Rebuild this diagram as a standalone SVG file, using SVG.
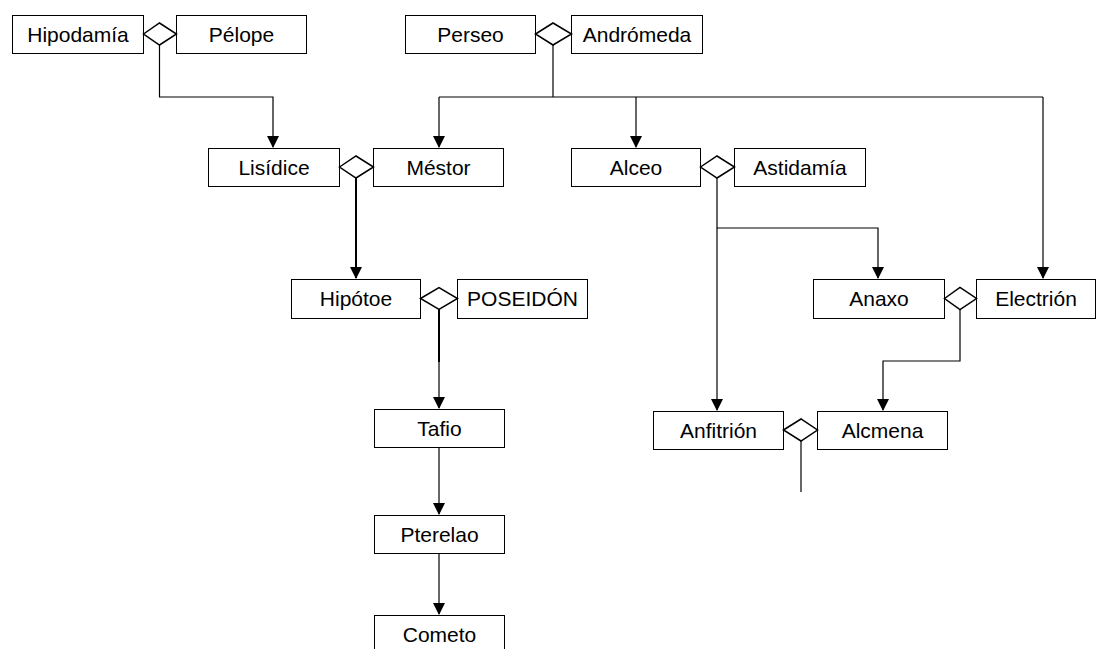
<svg xmlns="http://www.w3.org/2000/svg" width="1096" height="649" viewBox="0 0 1096 649">
  <style>
    .box { fill: #ffffff; stroke: #000000; stroke-width: 1; }
    .dia { fill: #ffffff; stroke: #000000; stroke-width: 1.5; }
    .lbl { font-family: "Liberation Sans", Arial, sans-serif; font-size: 21px; fill: #000000; text-anchor: middle; }
    .link { fill: none; stroke: #000000; stroke-width: 1.2; }
    .link-bold { fill: none; stroke: #000000; stroke-width: 2; }
  </style>
  <defs>
    <marker id="arrow" markerUnits="userSpaceOnUse" markerWidth="12" markerHeight="12" viewBox="0 0 12 12" refX="11" refY="6" orient="auto">
      <path d="M0,0 L12,6 L0,12 Z" fill="#000000"/>
    </marker>
  </defs>
  <rect width="1096" height="649" fill="#ffffff"/>

  <!-- connectors -->
  <g id="connectors">
    <path class="link" d="M159.5,44 V97 H273 V147" marker-end="url(#arrow)"/>
    <path class="link" d="M553,44 V97"/>
    <path class="link" d="M439,97 H1043"/>
    <path class="link" d="M439,97 V147" marker-end="url(#arrow)"/>
    <path class="link" d="M636,97 V147" marker-end="url(#arrow)"/>
    <path class="link" d="M1043,97 V278" marker-end="url(#arrow)"/>
    <path class="link-bold" d="M356,177 V278" marker-end="url(#arrow)"/>
    <path class="link" d="M717,177 V228 H878 V278" marker-end="url(#arrow)"/>
    <path class="link" d="M717,228 V410" marker-end="url(#arrow)"/>
    <path class="link-bold" d="M439,309 V362"/>
    <path class="link" d="M439,362 V408" marker-end="url(#arrow)"/>
    <path class="link" d="M439,447 V514" marker-end="url(#arrow)"/>
    <path class="link" d="M439,553 V614" marker-end="url(#arrow)"/>
    <path class="link" d="M960,309 V361 H883 V410" marker-end="url(#arrow)"/>
    <path class="link" d="M801,440 V492"/>
  </g>

  <!-- couples -->
  <g id="hipodamia">
    <rect class="box" x="12.5" y="15.5" width="131" height="38"/>
    <text class="lbl" x="78" y="41.5">Hipodamía</text>
  </g>
  <g id="pelope">
    <rect class="box" x="176.5" y="15.5" width="130" height="38"/>
    <text class="lbl" x="241.5" y="41.5">Pélope</text>
  </g>
  <polygon id="union-hipodamia-pelope" class="dia" points="143.5,34 159.5,23 176.5,34 159.5,45"/>

  <g id="perseo">
    <rect class="box" x="405.5" y="15.5" width="130" height="38"/>
    <text class="lbl" x="470.5" y="41.5">Perseo</text>
  </g>
  <g id="andromeda">
    <rect class="box" x="571.5" y="15.5" width="131" height="38"/>
    <text class="lbl" x="637" y="41.5">Andrómeda</text>
  </g>
  <polygon id="union-perseo-andromeda" class="dia" points="535.5,34 553,23 571.5,34 553,45"/>

  <g id="lisidice">
    <rect class="box" x="208.5" y="148.5" width="131" height="38"/>
    <text class="lbl" x="274" y="174.5">Lisídice</text>
  </g>
  <g id="mestor">
    <rect class="box" x="373.5" y="148.5" width="130" height="38"/>
    <text class="lbl" x="438.5" y="174.5">Méstor</text>
  </g>
  <polygon id="union-lisidice-mestor" class="dia" points="339.5,167 356,156 373.5,167 356,178"/>

  <g id="alceo">
    <rect class="box" x="571.5" y="148.5" width="129" height="38"/>
    <text class="lbl" x="636" y="174.5">Alceo</text>
  </g>
  <g id="astidamia">
    <rect class="box" x="734.5" y="148.5" width="131" height="38"/>
    <text class="lbl" x="800" y="174.5">Astidamía</text>
  </g>
  <polygon id="union-alceo-astidamia" class="dia" points="700.5,167 717,156 734.5,167 717,178"/>

  <g id="hipotoe">
    <rect class="box" x="291.5" y="279.5" width="129" height="39"/>
    <text class="lbl" x="356" y="305.5">Hipótoe</text>
  </g>
  <g id="poseidon">
    <rect class="box" x="457.5" y="279.5" width="130" height="39"/>
    <text class="lbl" x="522.5" y="305.5">POSEIDÓN</text>
  </g>
  <polygon id="union-hipotoe-poseidon" class="dia" points="420.5,298.5 439,287.5 457.5,298.5 439,309.5"/>

  <g id="anaxo">
    <rect class="box" x="813.5" y="279.5" width="131" height="39"/>
    <text class="lbl" x="879" y="305.5">Anaxo</text>
  </g>
  <g id="electrion">
    <rect class="box" x="976.5" y="279.5" width="119" height="39"/>
    <text class="lbl" x="1036" y="305.5">Electrión</text>
  </g>
  <polygon id="union-anaxo-electrion" class="dia" points="944.5,298.5 960,287.5 976.5,298.5 960,309.5"/>

  <g id="anfitrion">
    <rect class="box" x="653.5" y="411.5" width="130" height="38"/>
    <text class="lbl" x="718.5" y="437.5">Anfitrión</text>
  </g>
  <g id="alcmena">
    <rect class="box" x="817.5" y="411.5" width="130" height="38"/>
    <text class="lbl" x="882.5" y="437.5">Alcmena</text>
  </g>
  <polygon id="union-anfitrion-alcmena" class="dia" points="783.5,430 801,419 817.5,430 801,441"/>

  <!-- descendants -->
  <g id="tafio">
    <rect class="box" x="374.5" y="409.5" width="130" height="38"/>
    <text class="lbl" x="439.5" y="435.5">Tafio</text>
  </g>
  <g id="pterelao">
    <rect class="box" x="374.5" y="515.5" width="130" height="38"/>
    <text class="lbl" x="439.5" y="541.5">Pterelao</text>
  </g>
  <g id="cometo">
    <rect class="box" x="374.5" y="615.5" width="130" height="40"/>
    <text class="lbl" x="439.5" y="641.5">Cometo</text>
  </g>
</svg>
